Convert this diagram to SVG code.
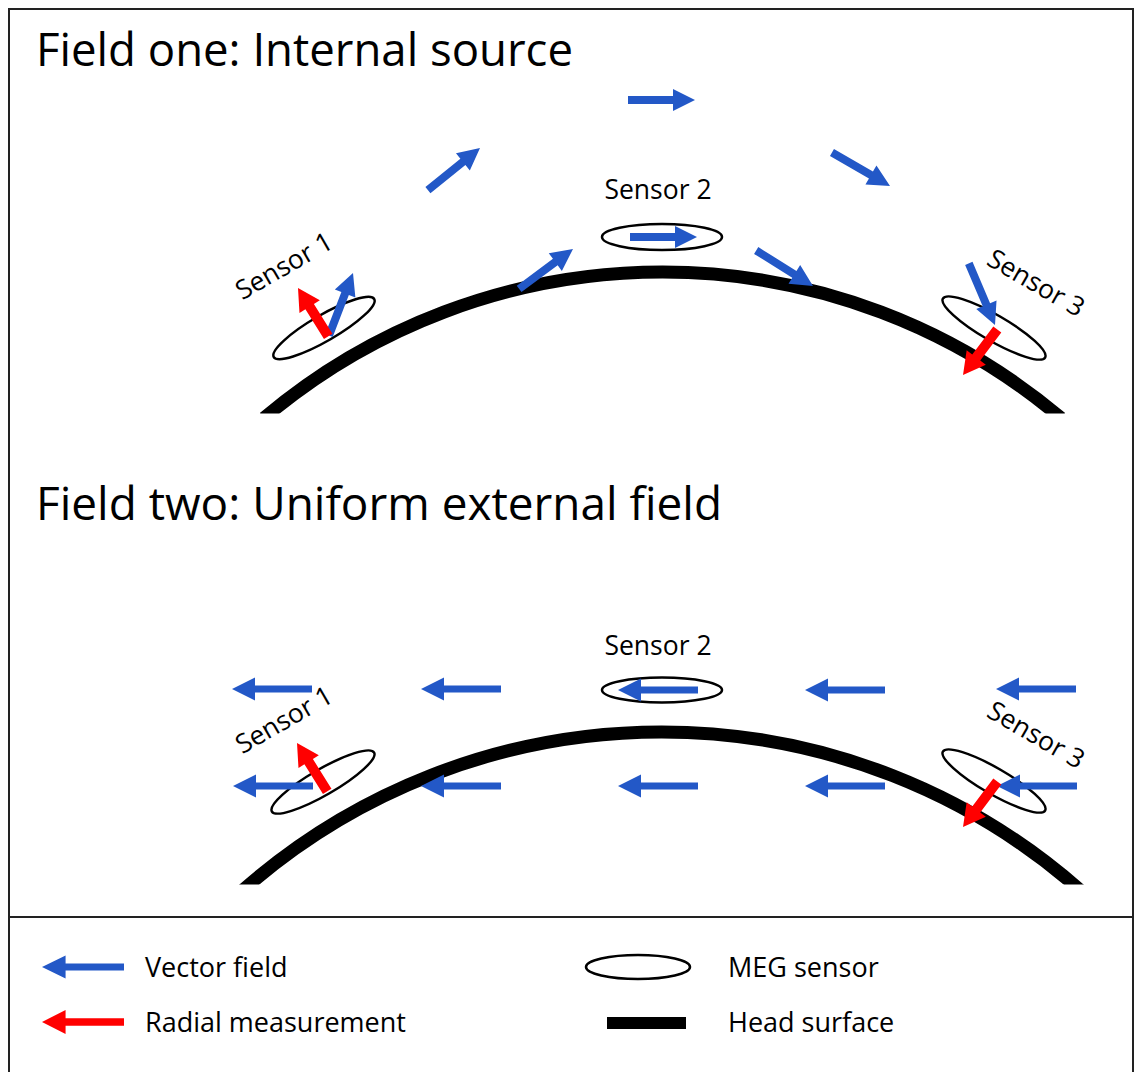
<svg xmlns="http://www.w3.org/2000/svg" xmlns:xlink="http://www.w3.org/1999/xlink" width="1137" height="1072" viewBox="0 0 1137 1072">
  <style>
    .title { font-family: "Open Sans", "Liberation Sans", sans-serif; font-size: 46px; fill: #000; }
    .lbl { font-family: "Open Sans", "Liberation Sans", sans-serif; font-size: 26.5px; fill: #000; }
    .leg { font-family: "Open Sans", "Liberation Sans", sans-serif; font-size: 27px; fill: #000; }
    .sensor { fill: none; stroke: #000; stroke-width: 2.5; }
    .head { fill: none; stroke: #000; stroke-width: 13; }
    .blue { fill: #2358c7; }
    .red { fill: #ff0000; }
  </style>
  <defs>
    <path id="arrT" d="M-67,-4 L-22,-4 L-22,-11 L0,0 L-22,11 L-22,4 L-67,4 Z"/>
    <path id="arrB" d="M-80,-3.5 L-23,-3.5 L-23,-11.5 L0,0 L-23,11.5 L-23,3.5 L-80,3.5 Z"/>
    <path id="arrR" d="M-57,-5 L-22,-5 L-22,-12 L0,0 L-22,12 L-22,5 L-57,5 Z"/>
    <clipPath id="clipTop"><rect x="0" y="0" width="1137" height="413.5"/></clipPath>
    <clipPath id="clipBot"><rect x="0" y="500" width="1137" height="384.5"/></clipPath>
  </defs>

  <rect width="1137" height="1072" fill="#fff"/>
  <g id="frame" fill="none" stroke="#222" stroke-width="2">
    <rect x="9" y="9" width="1124" height="1090"/>
    <line x1="9" y1="917" x2="1133" y2="917"/>
  </g>

  <!-- Panel 1 -->
  <g id="panel1">
    <text class="title" x="36" y="66" textLength="537" lengthAdjust="spacingAndGlyphs">Field one: Internal source</text>
    <g id="head1"><path class="head" clip-path="url(#clipTop)" d="M264,418 A617,617 0 0 1 1061,418"/></g>
    <g id="sensor1-top">
      <ellipse class="sensor" cx="324" cy="328" rx="58" ry="13" transform="rotate(-30 324 328)"/>
      <text class="lbl" text-anchor="middle" transform="translate(284,266) rotate(-30)" y="9">Sensor 1</text>
    </g>
    <g id="sensor2-top">
      <ellipse class="sensor" cx="662" cy="237" rx="60" ry="13"/>
      <text class="lbl" text-anchor="middle" x="658" y="199">Sensor 2</text>
    </g>
    <g id="sensor3-top">
      <ellipse class="sensor" cx="994" cy="328" rx="59" ry="13" transform="rotate(30 994 328)"/>
      <text class="lbl" text-anchor="middle" transform="translate(1036,283) rotate(30)" y="9">Sensor 3</text>
    </g>
    <g id="field1-arrows" class="blue">
      <use xlink:href="#arrT" transform="translate(480,148) rotate(-39)"/>
      <use xlink:href="#arrT" transform="translate(695,100)"/>
      <use xlink:href="#arrT" transform="translate(890,186) rotate(30)"/>
      <use xlink:href="#arrT" transform="translate(573,249) rotate(-36.5)"/>
      <use xlink:href="#arrT" transform="translate(697,237)"/>
      <use xlink:href="#arrT" transform="translate(813,286) rotate(32)"/>
      <use xlink:href="#arrT" transform="translate(353,273) rotate(-69)"/>
      <use xlink:href="#arrT" transform="translate(995,325) rotate(67)"/>
    </g>
    <g id="radial1" class="red">
      <use xlink:href="#arrR" transform="translate(298,288) rotate(-122)"/>
      <use xlink:href="#arrR" transform="translate(963,375) rotate(127)"/>
    </g>
  </g>

  <!-- Panel 2 -->
  <g id="panel2">
    <text class="title" x="36" y="520" textLength="686" lengthAdjust="spacingAndGlyphs">Field two: Uniform external field</text>
    <g id="head2"><path class="head" clip-path="url(#clipBot)" d="M243,890 A633,633 0 0 1 1080,890"/></g>
    <g id="sensor1-bot">
      <ellipse class="sensor" cx="323" cy="782" rx="59" ry="13" transform="rotate(-30 323 782)"/>
      <text class="lbl" text-anchor="middle" transform="translate(284,720) rotate(-30)" y="9">Sensor 1</text>
    </g>
    <g id="sensor2-bot">
      <ellipse class="sensor" cx="662" cy="690" rx="60" ry="12.5"/>
      <text class="lbl" text-anchor="middle" x="658" y="655">Sensor 2</text>
    </g>
    <g id="sensor3-bot">
      <ellipse class="sensor" cx="994" cy="781" rx="59" ry="13" transform="rotate(30 994 781)"/>
      <text class="lbl" text-anchor="middle" transform="translate(1036,735) rotate(30)" y="9">Sensor 3</text>
    </g>
    <g id="field2-arrows" class="blue">
      <use xlink:href="#arrB" transform="translate(232,689) rotate(180)"/>
      <use xlink:href="#arrB" transform="translate(421,689) rotate(180)"/>
      <use xlink:href="#arrB" transform="translate(618,690) rotate(180)"/>
      <use xlink:href="#arrB" transform="translate(805,690) rotate(180)"/>
      <use xlink:href="#arrB" transform="translate(996,689) rotate(180)"/>
      <use xlink:href="#arrB" transform="translate(233,786) rotate(180)"/>
      <use xlink:href="#arrB" transform="translate(421,786) rotate(180)"/>
      <use xlink:href="#arrB" transform="translate(618,786) rotate(180)"/>
      <use xlink:href="#arrB" transform="translate(805,786) rotate(180)"/>
      <use xlink:href="#arrB" transform="translate(997,786) rotate(180)"/>
    </g>
    <g id="radial2" class="red">
      <use xlink:href="#arrR" transform="translate(297,743) rotate(-122)"/>
      <use xlink:href="#arrR" transform="translate(963,827) rotate(127)"/>
    </g>
  </g>

  <!-- Legend -->
  <g id="legend">
    <g id="leg-vector">
      <use class="blue" xlink:href="#arrB" transform="translate(42,967) rotate(180) scale(1.025,1)"/>
      <text class="leg" x="145" y="977">Vector field</text>
    </g>
    <g id="leg-radial">
      <use class="red" xlink:href="#arrB" transform="translate(42,1022) rotate(180) scale(1.025,1.05)"/>
      <text class="leg" x="145" y="1032">Radial measurement</text>
    </g>
    <g id="leg-sensor">
      <ellipse class="sensor" cx="638" cy="967" rx="52" ry="12"/>
      <text class="leg" x="728" y="977">MEG sensor</text>
    </g>
    <g id="leg-head">
      <rect x="607" y="1017" width="79" height="12" fill="#000"/>
      <text class="leg" x="728" y="1032">Head surface</text>
    </g>
  </g>
</svg>
